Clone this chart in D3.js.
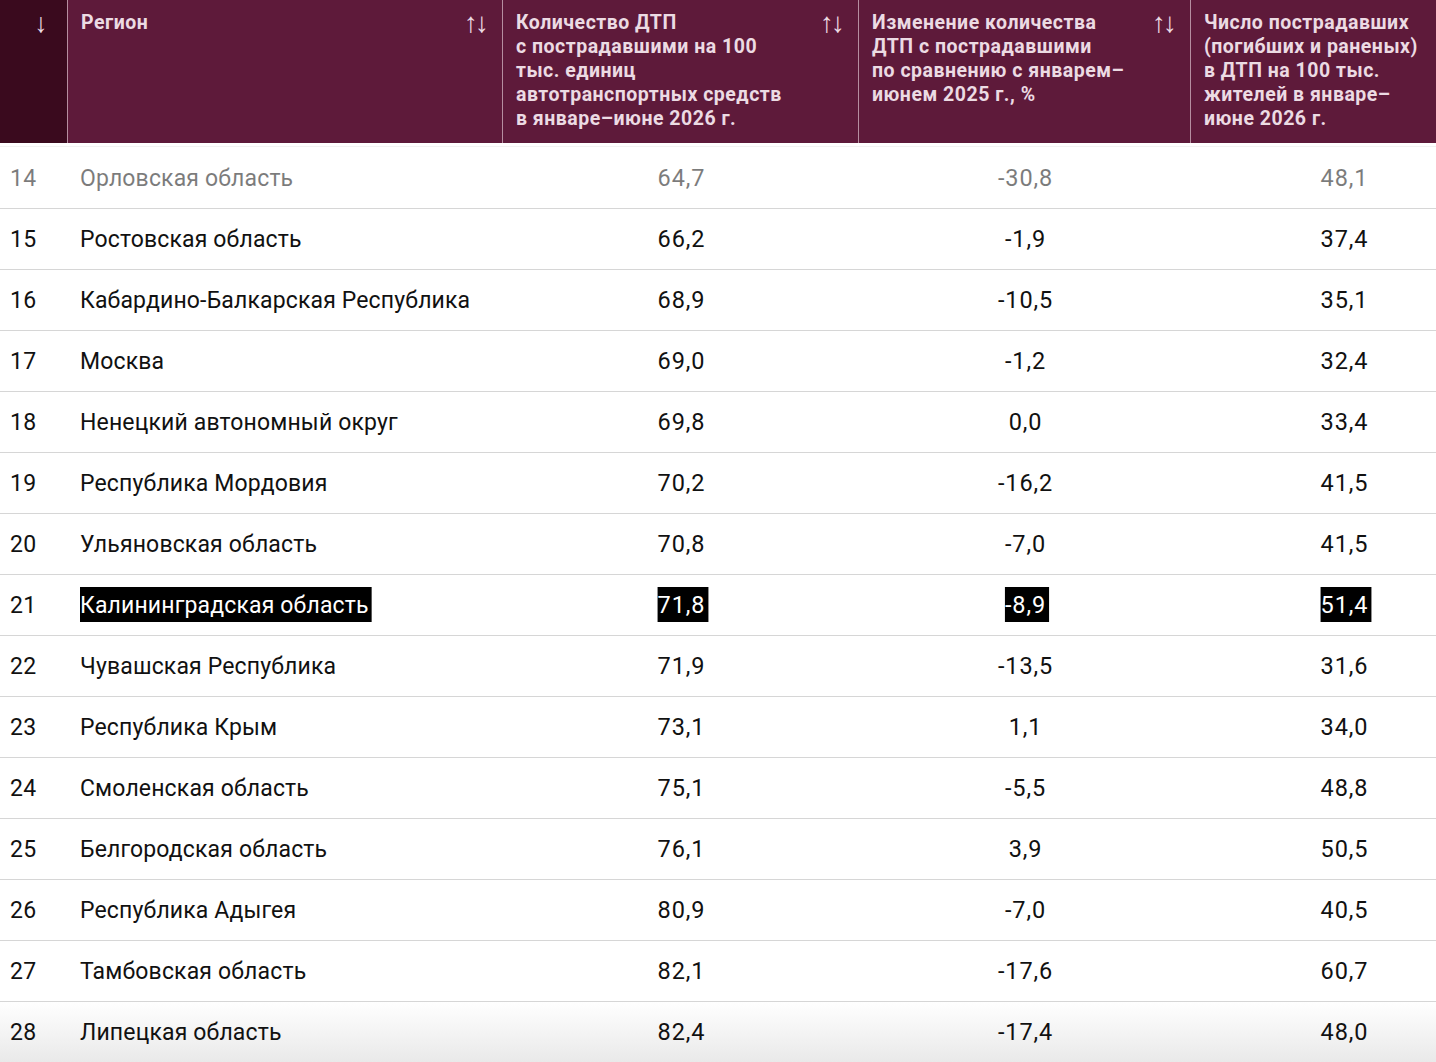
<!DOCTYPE html>
<html>
<head>
<meta charset="utf-8">
<script src="https://cdn.jsdelivr.net/npm/d3@7"></script>
<style>
  body { margin: 0; background: #fff; }
  svg { display: block; font-family: Roboto, "Noto Sans", sans-serif; }
</style>
</head>
<body>
<div id="chart"></div>
<script>
// Data
const ranks = [14, 15, 16, 17, 18, 19, 20, 21, 22, 23, 24, 25, 26, 27, 28];
const regions = [
  "Орловская область", "Ростовская область", "Кабардино-Балкарская Республика",
  "Москва", "Ненецкий автономный округ", "Республика Мордовия",
  "Ульяновская область", "Калининградская область", "Чувашская Республика",
  "Республика Крым", "Смоленская область", "Белгородская область",
  "Республика Адыгея", "Тамбовская область", "Липецкая область"
];
const crashRate = [64.7, 66.2, 68.9, 69.0, 69.8, 70.2, 70.8, 71.8, 71.9, 73.1, 75.1, 76.1, 80.9, 82.1, 82.4];
const crashChange = [-30.8, -1.9, -10.5, -1.2, 0.0, -16.2, -7.0, -8.9, -13.5, 1.1, -5.5, 3.9, -7.0, -17.6, -17.4];
const victimRate = [48.1, 37.4, 35.1, 32.4, 33.4, 41.5, 41.5, 51.4, 31.6, 34.0, 48.8, 50.5, 40.5, 60.7, 48.0];
const highlight = "Калининградская область";

const headers = [
  ["Регион"],
  ["Количество ДТП", "с пострадавшими на 100", "тыс. единиц", "автотранспортных средств", "в январе–июне 2026 г."],
  ["Изменение количества", "ДТП с пострадавшими", "по сравнению с январем–", "июнем 2025 г., %"],
  ["Число пострадавших", "(погибших и раненых)", "в ДТП на 100 тыс.", "жителей в январе–", "июне 2026 г."]
];

// Layout
const width = 1436, height = 1062;
const headerH = 143;
const colEdges = [0, 67, 502, 858, 1190, 1500];
const valueCenters = [681.5, 1025.5, 1344.5];
const headColor = "#ecdbe3";
const arrowFont = "'Liberation Sans', 'DejaVu Sans', sans-serif";

const locale = d3.formatLocale({decimal: ",", thousands: " ", grouping: [3], currency: ["", ""], minus: "-"});
const fmt = locale.format(".1f");

const rows = ranks.map((r, i) => ({
  rank: r, region: regions[i],
  values: [crashRate[i], crashChange[i], victimRate[i]]
}));

const svg = d3.select("#chart").append("svg")
  .attr("width", width)
  .attr("height", height);

const defs = svg.append("defs");
const grad = defs.append("linearGradient")
  .attr("id", "fade").attr("x1", 0).attr("x2", 0).attr("y1", 0).attr("y2", 1);
grad.append("stop").attr("offset", "0%").attr("stop-color", "#ffffff");
grad.append("stop").attr("offset", "100%").attr("stop-color", "#e9e9e9");

// Row scale
const yScale = d3.scaleBand()
  .domain(ranks)
  .range([147.5, 147.5 + 61 * ranks.length]);

// Fade behind the last row
const last = ranks[ranks.length - 1];
svg.append("rect")
  .attr("x", 0).attr("width", width)
  .attr("y", yScale(last)).attr("height", yScale.bandwidth())
  .attr("fill", "url(#fade)");

// Header
svg.append("rect")
  .attr("width", width).attr("height", headerH)
  .attr("fill", "#5e1a3a");
svg.append("rect")
  .attr("width", colEdges[1]).attr("height", headerH)
  .attr("fill", "#3a0a1e");

svg.selectAll(".divider")
  .data(colEdges.slice(1, 5))
  .join("line")
  .attr("class", "divider")
  .attr("x1", d => d + 0.5).attr("x2", d => d + 0.5)
  .attr("y1", 0).attr("y2", headerH)
  .attr("stroke", "#b58ea0")
  .attr("stroke-width", 1);

svg.append("text")
  .attr("x", 41).attr("y", 32)
  .attr("text-anchor", "middle")
  .attr("fill", headColor)
  .attr("font-family", arrowFont)
  .attr("font-size", 27)
  .text("↓");

const headG = svg.selectAll(".head")
  .data(headers)
  .join("g")
  .attr("class", "head")
  .attr("transform", (d, i) => `translate(${colEdges[i + 1]},0)`);

headG.append("text")
  .attr("fill", headColor)
  .attr("font-size", 19.5)
  .attr("font-weight", 700)
  .attr("letter-spacing", 0.5)
  .selectAll("tspan")
  .data(d => d)
  .join("tspan")
  .attr("x", 14)
  .attr("y", (d, i) => 29 + i * 24)
  .text(d => d);

headG.filter((d, i) => i < 3)
  .append("text")
  .attr("x", (d, i) => colEdges[i + 2] - colEdges[i + 1] - 27)
  .attr("y", 32)
  .attr("text-anchor", "middle")
  .attr("fill", headColor)
  .attr("font-family", arrowFont)
  .attr("font-size", 28)
  .attr("letter-spacing", -3)
  .text("↑↓");

// Row separators
svg.selectAll(".sep")
  .data(ranks)
  .join("line")
  .attr("class", "sep")
  .attr("x1", 0).attr("x2", width)
  .attr("y1", d => Math.round(yScale(d) + yScale.bandwidth()) - 0.5)
  .attr("y2", d => Math.round(yScale(d) + yScale.bandwidth()) - 0.5)
  .attr("stroke", "#d6d6d6");
svg.append("line")
  .attr("x1", 0).attr("x2", width)
  .attr("y1", 146.5).attr("y2", 146.5)
  .attr("stroke", "#f2f2f2");

// Rows
const rowG = svg.selectAll(".row")
  .data(rows)
  .join("g")
  .attr("class", "row")
  .attr("transform", d => `translate(0,${yScale(d.rank) + yScale.bandwidth() / 2})`)
  .attr("opacity", (d, i) => i === 0 ? 0.55 : 1);

rowG.append("text")
  .attr("x", 10).attr("dy", "0.35em")
  .attr("font-size", 23)
  .attr("letter-spacing", 0.3)
  .attr("fill", "#111")
  .text(d => d.rank);

const cellSel = rowG.selectAll(".cell")
  .data(d => [
    {x: 80, anchor: "start", text: d.region, fs: 23, ls: 0.15, hi: d.region === highlight}
  ].concat(d.values.map((v, j) => ({x: valueCenters[j], anchor: "middle", text: fmt(v), fs: 23.5, ls: 0.9, hi: d.region === highlight}))))
  .join("g")
  .attr("class", "cell");

cellSel.append("text")
  .attr("x", d => d.x).attr("dy", "0.35em")
  .attr("text-anchor", d => d.anchor)
  .attr("font-size", d => d.fs)
  .attr("letter-spacing", d => d.ls)
  .attr("fill", d => d.hi ? "#fff" : "#111")
  .text(d => d.text);

// Highlight boxes behind the selected region
cellSel.filter(d => d.hi).each(function() {
  const g = d3.select(this);
  const b = g.select("text").node().getBBox();
  g.insert("rect", "text")
    .attr("x", b.x).attr("width", b.width + 3)
    .attr("y", -18).attr("height", 35)
    .attr("fill", "#000");
});
</script>
</body>
</html>
